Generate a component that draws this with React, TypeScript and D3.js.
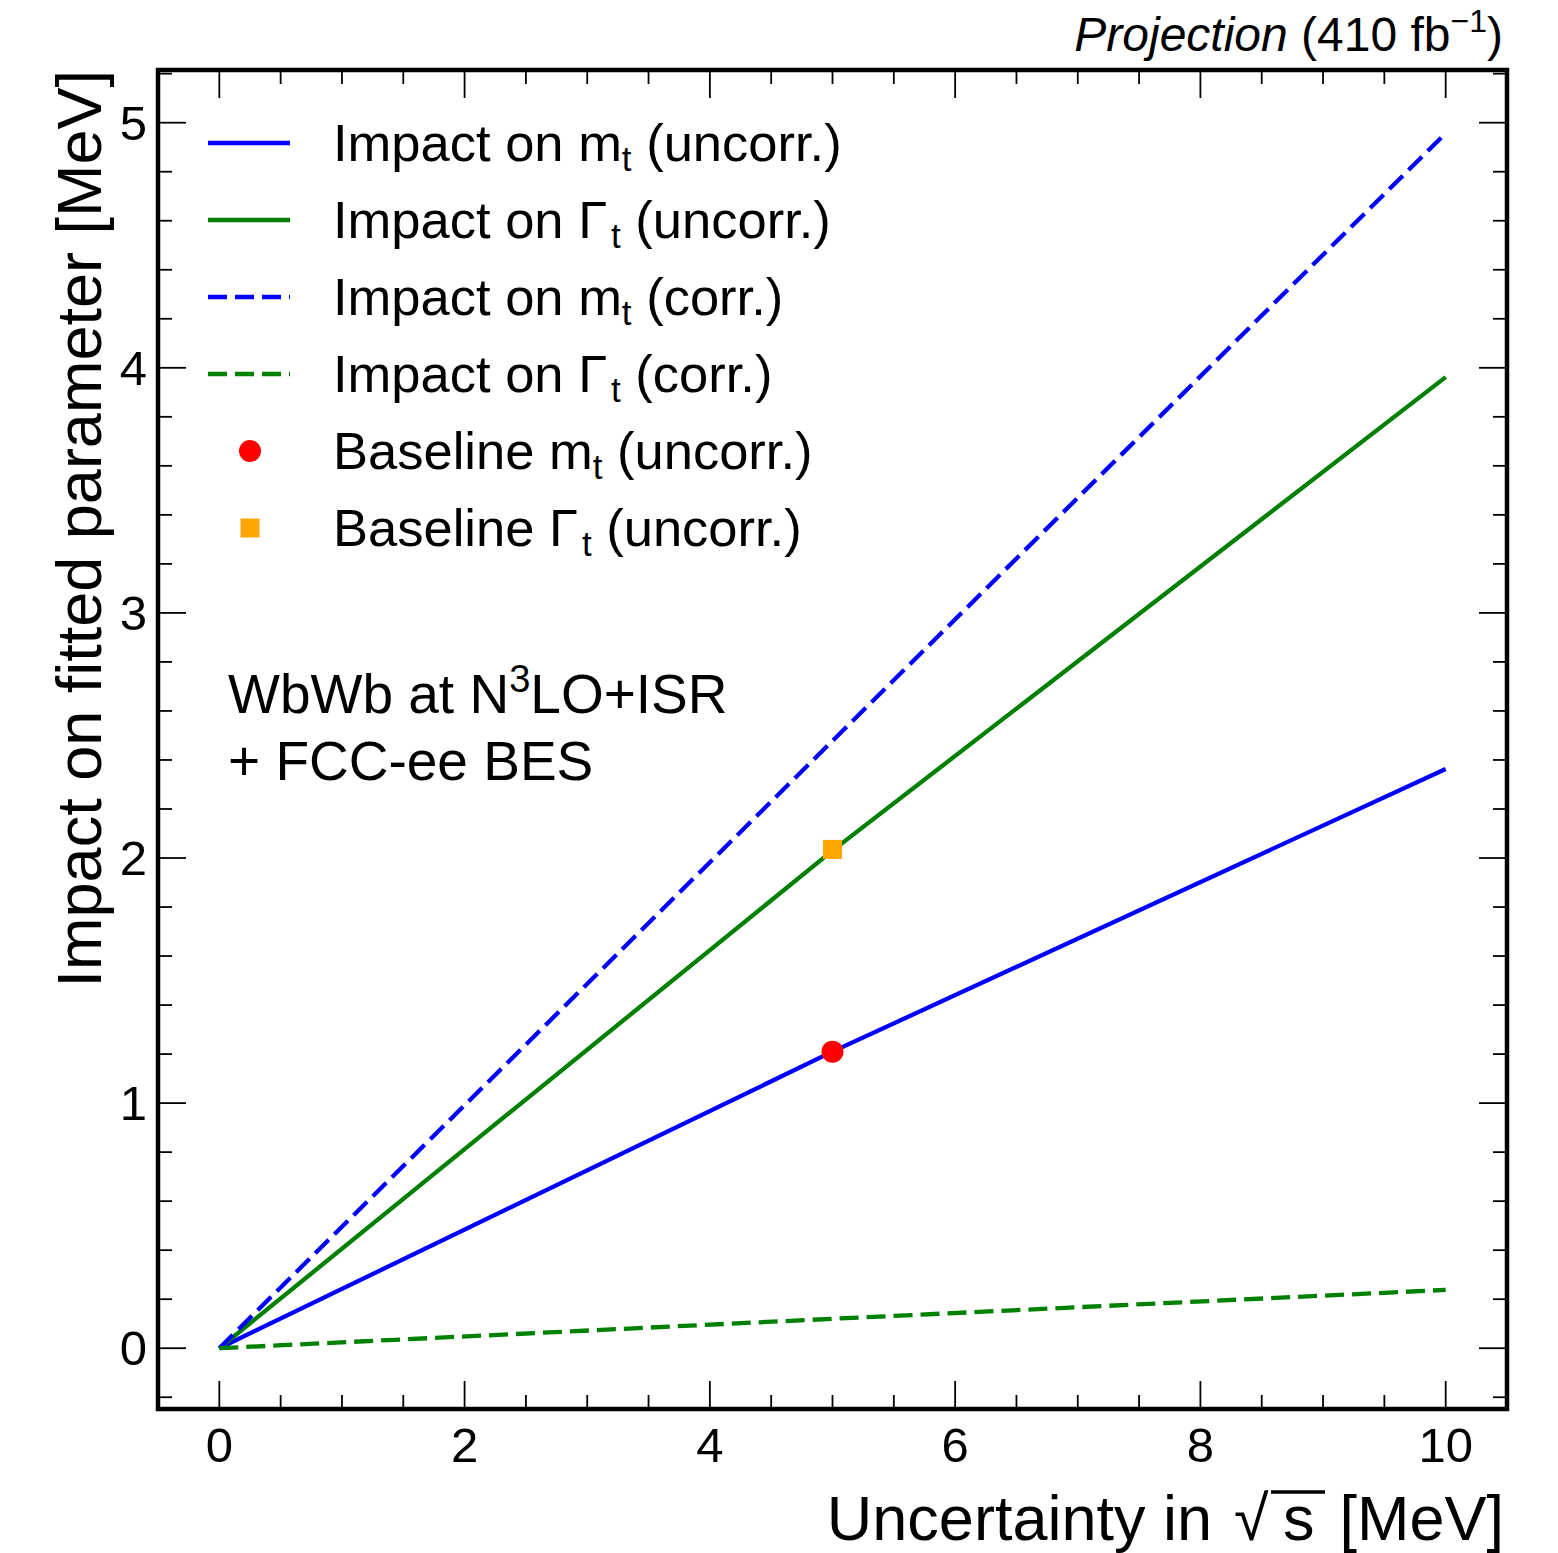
import React from "react";
import * as d3 from "d3";

const xVals = [0, 5, 10];
const mtUncorr = [0, 1.21, 2.363];
const gtUncorr = [0, 2.03, 3.962];
const mtCorr = [0, 2.478, 4.957];
const gtCorr = [0, 0.12, 0.238];
const baselineMt = { x: 5, y: 1.21 };
const baselineGt = { x: 5, y: 2.035 };
const xTicks = [0, 2, 4, 6, 8, 10];
const yTicks = [0, 1, 2, 3, 4, 5];

const W = 1558, H = 1553;
const L = 158, R = 1507, T = 70, B = 1409;
const FONT = "'Liberation Sans', Arial, Helvetica, sans-serif";
const DASH = "19,8";

export default function App() {
  const x = d3.scaleLinear().domain([-0.5, 10.5]).range([L, R]);
  const y = d3.scaleLinear().domain([-0.248, 5.215]).range([B, T]);
  const line = d3.line<[number, number]>().x(d => x(d[0])).y(d => y(d[1]));
  const pts = (vals: number[]) => xVals.map((v, i) => [v, vals[i]] as [number, number]);

  const xMinor = d3.range(-0.5, 10.51, 0.5);
  const yMinor = d3.range(-0.2, 5.21, 0.2).map(v => Math.round(v * 10) / 10);

  const series = [
    { vals: mtUncorr, color: "#0000ff", dash: null, label: "m", rest: " (uncorr.)" },
    { vals: gtUncorr, color: "#008000", dash: null, label: "Γ", rest: " (uncorr.)" },
    { vals: mtCorr, color: "#0000ff", dash: DASH, label: "m", rest: " (corr.)" },
    { vals: gtCorr, color: "#008000", dash: DASH, label: "Γ", rest: " (corr.)" },
  ];

  const legendY0 = 143, legendDy = 77;
  const legFs = 52.5;

  return (
    <svg width={W} height={H} style={{ display: "block", position: "absolute", left: 0, top: 0 }} fontFamily={FONT}>
      <rect x={0} y={0} width={W} height={H} fill="white" />
      <defs>
        <clipPath id="clip"><rect x={L} y={T} width={R - L} height={B - T} /></clipPath>
      </defs>
      <g clipPath="url(#clip)">
        {series.map((s, i) => (
          <path key={i} d={line(pts(s.vals)) || ""} fill="none" stroke={s.color} strokeWidth={4.3}
            strokeDasharray={s.dash || undefined} />
        ))}
        <circle cx={x(baselineMt.x)} cy={y(baselineMt.y)} r={11} fill="#ff0000" />
        <rect x={x(baselineGt.x) - 9.5} y={y(baselineGt.y) - 9.5} width={19} height={19} fill="#ffa500" />
      </g>
      {xMinor.map((v, i) => {
        const major = Math.abs(v / 2 - Math.round(v / 2)) < 1e-6;
        const len = major ? 28 : 14;
        return (
          <g key={"xt" + i} stroke="black" strokeWidth={1.8}>
            <line x1={x(v)} x2={x(v)} y1={B} y2={B - len} />
            <line x1={x(v)} x2={x(v)} y1={T} y2={T + len} />
          </g>
        );
      })}
      {yMinor.map((v, i) => {
        const major = Math.abs(v - Math.round(v)) < 1e-6;
        const len = major ? 28 : 14;
        return (
          <g key={"yt" + i} stroke="black" strokeWidth={1.8}>
            <line x1={L} x2={L + len} y1={y(v)} y2={y(v)} />
            <line x1={R} x2={R - len} y1={y(v)} y2={y(v)} />
          </g>
        );
      })}
      <rect x={L} y={T} width={R - L} height={B - T} fill="none" stroke="black" strokeWidth={4.5} />
      {xTicks.map(v => (
        <text key={"xl" + v} x={x(v)} y={1462} textAnchor="middle" fontSize={49}>{v}</text>
      ))}
      {yTicks.map(v => (
        <text key={"yl" + v} x={147} y={y(v) + 17} textAnchor="end" fontSize={49}>{v}</text>
      ))}
      {/* x axis title */}
      <text x={1212} y={1540} textAnchor="end" fontSize={63}>Uncertainty in</text>
      <text x={1234} y={1540} fontSize={63}>√</text>
      <line x1={1271} x2={1325} y1={1492} y2={1492} stroke="black" strokeWidth={3.5} />
      <text x={1283} y={1540} fontSize={63}>s</text>
      <text x={1504} y={1540} textAnchor="end" fontSize={63}>[MeV]</text>
      {/* y axis title */}
      <text transform={`translate(101,${T}) rotate(-90)`} textAnchor="end" fontSize={63}>
        Impact on fitted parameter [MeV]
      </text>
      {/* top right */}
      <text x={1503} y={51} textAnchor="end" fontSize={48}>
        <tspan fontStyle="italic">Projection</tspan> (410 fb<tspan dy={-19} fontSize={32}>−1</tspan><tspan dy={19}>)</tspan>
      </text>
      {/* legend */}
      {series.map((s, i) => {
        const cy = legendY0 + i * legendDy;
        return (
          <g key={"lg" + i}>
            <line x1={208} x2={290} y1={cy} y2={cy} stroke={s.color} strokeWidth={4.3} strokeDasharray={s.dash || undefined} />
            <text x={333} y={cy + 18} fontSize={legFs}>
              Impact on {s.label}<tspan dx={s.label === "Γ" ? 4 : 0} dy={10} fontSize={35}>t</tspan><tspan dy={-10}>{s.rest}</tspan>
            </text>
          </g>
        );
      })}
      {(() => {
        const cy1 = legendY0 + 4 * legendDy, cy2 = legendY0 + 5 * legendDy;
        return (
          <g>
            <circle cx={250} cy={cy1} r={11} fill="#ff0000" />
            <text x={333} y={cy1 + 18} fontSize={legFs}>
              Baseline m<tspan dy={10} fontSize={35}>t</tspan><tspan dy={-10}> (uncorr.)</tspan>
            </text>
            <rect x={240.5} y={cy2 - 9.5} width={19} height={19} fill="#ffa500" />
            <text x={333} y={cy2 + 18} fontSize={legFs}>
              Baseline Γ<tspan dx={4} dy={10} fontSize={35}>t</tspan><tspan dy={-10}> (uncorr.)</tspan>
            </text>
          </g>
        );
      })()}
      {/* annotation */}
      <text x={228} y={713} fontSize={55}>
        WbWb at N<tspan dy={-21} fontSize={38}>3</tspan><tspan dy={21}>LO+ISR</tspan>
      </text>
      <text x={228} y={780} fontSize={55}>+ FCC-ee BES</text>
    </svg>
  );
}
